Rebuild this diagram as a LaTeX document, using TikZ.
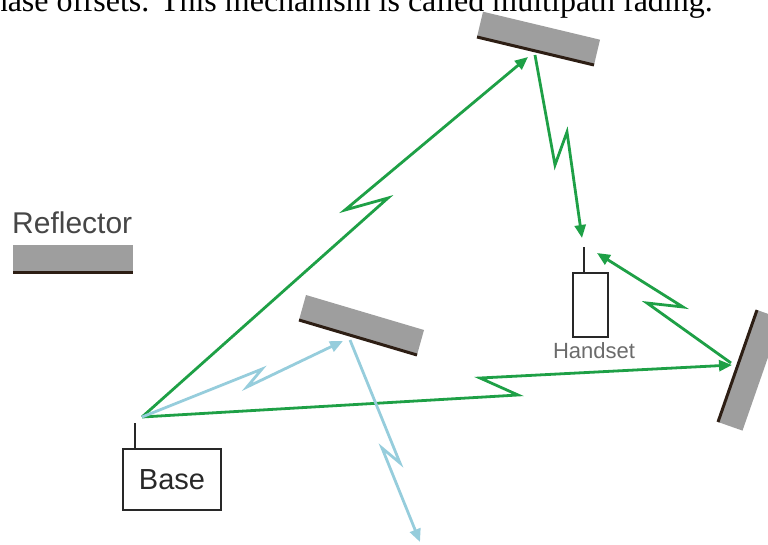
\documentclass[tikz,border=0pt]{standalone}
\usepackage{fontspec}
\setmainfont{Liberation Serif}
\newfontfamily\sansf{Liberation Sans}
\usetikzlibrary{arrows.meta}
\definecolor{raygreen}{RGB}{30,160,70}
\definecolor{rayblue}{RGB}{150,205,220}
\definecolor{reflgray}{RGB}{158,158,158}
\definecolor{refledge}{RGB}{45,30,20}
\definecolor{boxline}{RGB}{40,40,40}
\definecolor{labelgray}{RGB}{70,70,70}
\begin{document}
\begin{tikzpicture}[x=1pt,y=-1pt,
  green ray/.style={draw=raygreen, line width=2.8pt, line join=miter, -{Triangle[length=13pt,width=11pt]}},
  blue ray/.style={draw=rayblue, line width=2.8pt, line join=miter, -{Triangle[length=13pt,width=11pt]}},
  reflector/.style={fill=reflgray},
  refl edge/.style={draw=refledge, line width=3pt},
  device/.style={draw=boxline, line width=2pt, inner sep=0pt},
  antenna/.style={draw=boxline, line width=2pt},
  lbl/.style={inner sep=0pt, font=\sansf\fontsize{#1}{#1}\selectfont}]
\useasboundingbox (0,0) rectangle (768,544);

% caption line cut at the top
\node[anchor=base east, inner sep=0pt, font=\fontsize{32}{32}\selectfont] (caption) at (713,11)
  {phase offsets. This mechanism is called multipath fading.};

% named points
\coordinate (o) at (142,417);
\coordinate (topA) at (528,57);
\coordinate (topB) at (535,55);
\coordinate (hsant) at (584,247);
\coordinate (hsT) at (582,238);
\coordinate (rightA) at (732,365);
\coordinate (rightB) at (731,363);
\coordinate (hsR) at (597,253);
\coordinate (midA) at (343,341);
\coordinate (midB) at (350,340);
\coordinate (away) at (420,542);

% rays
\draw[green ray] (o) -- (388,198) -- (345,210) -- (topA);
\draw[green ray] (topB) -- (555,165) -- (567,132) -- (hsT);
\draw[green ray] (o) -- (518,395) -- (480,378) -- (rightA);
\draw[green ray] (rightB) -- (647,303) -- (683,307) -- (hsR);
\draw[blue ray] (o) -- (262,369) -- (247,387) -- (midA);
\draw[blue ray] (midB) -- (400,463) -- (382,448) -- (away);

% reflectors
\fill[reflector] (477,37) -- (594,65) -- (600,39.7) -- (483,11.7) -- cycle;
\draw[refl edge] (477,37) -- (594,65);
\fill[reflector] (299,320) -- (417,355) -- (424,330) -- (306,295) -- cycle;
\draw[refl edge] (299,320) -- (417,355);
\fill[reflector] (757,310) -- (718,422) -- (742.5,430.6) -- (781.5,318.6) -- cycle;
\draw[refl edge] (757,310) -- (718,422);

% legend
\node[lbl=30, anchor=base west, text=labelgray] (refltext) at (12,233) {Reflector};
\fill[reflector] (13,245) rectangle (133,273);
\draw[refl edge] (13,272) -- (133,272);

% base
\node[device, minimum width=98pt, minimum height=61pt, lbl=29, text=boxline] (base) at (172,479.5) {Base};
\coordinate (bant) at (135,423);
\draw[antenna] (bant) -- (bant |- base.north);

% handset
\node[device, minimum width=35pt, minimum height=64pt] (hs) at (590.5,305) {};
\draw[antenna] (hsant) -- (hsant |- hs.north);
\node[lbl=22, anchor=base, text=labelgray!80] (hslabel) at (594,358) {Handset};
\end{tikzpicture}
\end{document}
